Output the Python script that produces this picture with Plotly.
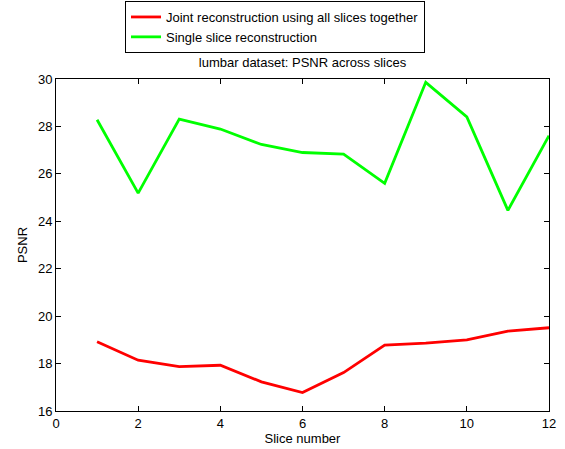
import plotly.graph_objects as go

slices = [1, 2, 3, 4, 5, 6, 7, 8, 9, 10, 11, 12]
joint_psnr = [18.92, 18.14, 17.87, 17.93, 17.23, 16.78, 17.62, 18.78, 18.86, 19.00, 19.37, 19.51]
single_psnr = [28.28, 25.19, 28.31, 27.89, 27.24, 26.90, 26.83, 25.60, 29.86, 28.40, 24.46, 27.61]
x_ticks = [0, 2, 4, 6, 8, 10, 12]
y_ticks = [16, 18, 20, 22, 24, 26, 28, 30]

FONT = "Liberation Sans, Arial, Helvetica, sans-serif"
FS = 13

fig = go.Figure()
fig.add_trace(go.Scatter(x=slices, y=joint_psnr, mode="lines",
                         name="Joint reconstruction using all slices together",
                         line=dict(color="#ff0000", width=2.8)))
fig.add_trace(go.Scatter(x=slices, y=single_psnr, mode="lines",
                         name="Single slice reconstruction",
                         line=dict(color="#00ff00", width=2.8)))

axis_common = dict(showgrid=False, zeroline=False, showline=True, linecolor="black",
                   linewidth=1, mirror="ticks", ticks="inside", ticklen=5,
                   tickcolor="black", tickfont=dict(family=FONT, size=FS, color="black"))

fig.update_layout(
    width=565, height=449,
    margin=dict(l=56, r=16, t=79, b=38, autoexpand=False),
    paper_bgcolor="white", plot_bgcolor="white",
    font=dict(family=FONT, size=FS, color="black"),
    title=dict(text="lumbar dataset: PSNR across slices", x=(302.5) / 565, xanchor="center",
               y=1 - 62 / 449, yanchor="middle", font=dict(family=FONT, size=FS)),
    xaxis=dict(range=[0, 12], tickvals=x_ticks,
               title=dict(text="Slice number", standoff=3, font=dict(family=FONT, size=FS)),
               **axis_common),
    yaxis=dict(range=[16, 30], tickvals=y_ticks,
               title=dict(text="PSNR", standoff=7, font=dict(family=FONT, size=FS)),
               **axis_common),
    showlegend=True,
    legend=dict(x=(125 - 56) / 493, y=(411 - 1) / 332, xanchor="left", yanchor="top",
                bordercolor="black", borderwidth=1, bgcolor="white",
                font=dict(family=FONT, size=FS), tracegroupgap=0, itemwidth=30),
)

fig.write_html("out.html", config={"displayModeBar": False},
               post_script="document.body.style.margin='0';")
